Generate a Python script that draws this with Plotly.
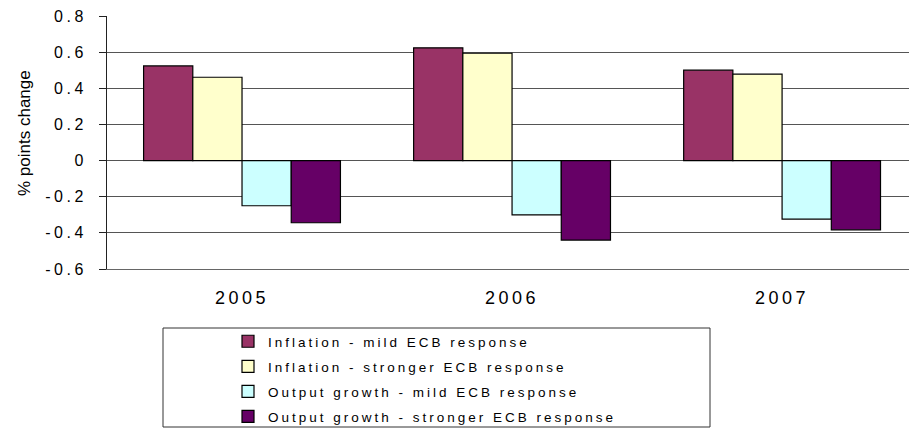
import plotly.graph_objects as go

# ---- data ----
years = ["2005", "2006", "2007"]
inflation_mild = [0.524, 0.624, 0.500]
inflation_strong = [0.461, 0.594, 0.478]
output_mild = [-0.250, -0.300, -0.324]
output_strong = [-0.344, -0.440, -0.383]

series_names = [
    "Inflation - mild ECB response",
    "Inflation - stronger ECB response",
    "Output growth - mild ECB response",
    "Output growth - stronger ECB response",
]
series_values = [inflation_mild, inflation_strong, output_mild, output_strong]
series_colors = ["#993366", "#FFFFCC", "#CCFFFF", "#660066"]

y_tickvals = [-0.6, -0.4, -0.2, 0, 0.2, 0.4, 0.6, 0.8]
y_ticktext = ["-0.6", "-0.4", "-0.2", "0", "0.2", "0.4", "0.6", "0.8"]

FONT = "Arial, Liberation Sans, sans-serif"

W, H = 909, 428
ML, MR, MT, MB = 107, 0, 16, 159
PW = W - ML - MR
PH = H - MT - MB


def px_to_paper_x(px):
    return (px - ML) / PW


def px_to_paper_y(py):
    return (H - MB - py) / PH


fig = go.Figure()
for i, (name, vals, col) in enumerate(zip(series_names, series_values, series_colors)):
    fig.add_trace(go.Bar(
        x=years, y=vals, name=name,
        marker=dict(color=col, line=dict(color="#000000", width=1.2)),
        legendgroup=f"g{i}",
    ))

fig.update_layout(
    width=W, height=H,
    margin=dict(l=ML, r=MR, t=MT, b=MB, pad=0, autoexpand=False),
    paper_bgcolor="white", plot_bgcolor="white",
    barmode="group", bargap=0.271, bargroupgap=0,
    font=dict(family=FONT, color="#000000"),
    showlegend=True,
    legend=dict(
        xref="paper", yref="paper",
        x=px_to_paper_x(228), y=px_to_paper_y(326), xanchor="left", yanchor="top",
        font=dict(family=FONT, size=13.5, color="#000000"),
        bgcolor="rgba(0,0,0,0)", borderwidth=0,
        traceorder="grouped", tracegroupgap=4.5,
    ),
    xaxis=dict(
        type="category", range=[-0.5, 2.47],
        showgrid=False, zeroline=False,
        showline=True, linecolor="#666666", linewidth=1,
        ticks="", tickfont=dict(family=FONT, size=18, color="#000000"),
        ticklabelstandoff=12,
        automargin=False,
    ),
    yaxis=dict(
        range=[-0.6, 0.8], tickvals=y_tickvals, ticktext=y_ticktext,
        showgrid=True, gridcolor="#555555", gridwidth=1,
        zeroline=False,
        showline=True, linecolor="#222222", linewidth=1,
        ticks="outside", ticklen=7, tickcolor="#222222",
        tickfont=dict(family=FONT, size=16, color="#000000"),
        ticklabelstandoff=9,
        automargin=False,
    ),
    shapes=[dict(
        type="rect", xref="paper", yref="paper",
        x0=px_to_paper_x(163), x1=px_to_paper_x(710),
        y0=px_to_paper_y(427), y1=px_to_paper_y(328),
        line=dict(color="#333333", width=1), fillcolor="rgba(0,0,0,0)",
        layer="above",
    )],
    annotations=[dict(
        text="% points change", xref="paper", yref="paper",
        x=px_to_paper_x(24), y=px_to_paper_y(133),
        xanchor="center", yanchor="middle", textangle=-90,
        showarrow=False, font=dict(family=FONT, size=17, color="#000000"),
    )],
)

post = """
document.body.style.margin = '0';
document.body.style.overflow = 'hidden';
var s = document.createElement('style');
s.textContent = '.legendtext{letter-spacing:3px;} .xtick text{letter-spacing:3.5px;} .ytick text{letter-spacing:3.5px;} .legend .scrollbox{clip-path:none !important;} .legend .legendtoggle{display:none;}';
document.head.appendChild(s);
"""

fig.write_html("out.html", post_script=post, config={"displayModeBar": False})
